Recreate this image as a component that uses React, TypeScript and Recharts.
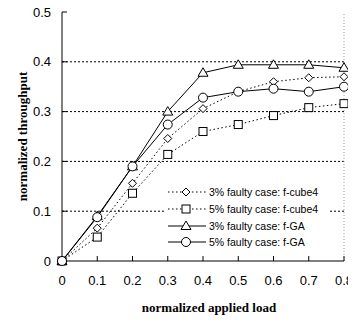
import React from 'react';
import { LineChart, Line, XAxis, YAxis, ReferenceLine } from 'recharts';

const loads = [0, 0.1, 0.2, 0.3, 0.4, 0.5, 0.6, 0.7, 0.8];
const cube4Faulty3 = [0, 0.066, 0.156, 0.246, 0.306, 0.34, 0.36, 0.368, 0.37];
const cube4Faulty5 = [0, 0.048, 0.136, 0.214, 0.26, 0.274, 0.292, 0.308, 0.316];
const gaFaulty3 = [0, 0.09, 0.19, 0.3, 0.378, 0.394, 0.394, 0.394, 0.388];
const gaFaulty5 = [0, 0.088, 0.19, 0.274, 0.328, 0.34, 0.346, 0.34, 0.35];
const yTicks = [0, 0.1, 0.2, 0.3, 0.4, 0.5];
const gridValues = [0.1, 0.2, 0.3, 0.4];

const data = loads.map((x, i) => ({
  x,
  c3: cube4Faulty3[i],
  c5: cube4Faulty5[i],
  g3: gaFaulty3[i],
  g5: gaFaulty5[i],
}));

type Shape = 'diamond' | 'square' | 'triangle' | 'circle';

const Marker = ({ cx, cy, shape }: { cx: number; cy: number; shape: Shape }) => {
  const p = { fill: '#fff', stroke: '#000', strokeWidth: 1 };
  if (shape === 'diamond')
    return <polygon points={`${cx},${cy - 4} ${cx + 4},${cy} ${cx},${cy + 4} ${cx - 4},${cy}`} {...p} />;
  if (shape === 'square') return <rect x={cx - 4} y={cy - 4} width={8} height={8} {...p} />;
  if (shape === 'triangle')
    return <polygon points={`${cx},${cy - 5} ${cx + 5},${cy + 3.5} ${cx - 5},${cy + 3.5}`} {...p} />;
  return <circle cx={cx} cy={cy} r={4.5} {...p} />;
};

const dot = (shape: Shape) => (props: any) =>
  <Marker key={`${shape}-${props.index}`} cx={props.cx} cy={props.cy} shape={shape} />;

const series = [
  { key: 'c3', name: '3% faulty case: f-cube4', shape: 'diamond' as Shape, dash: '1.5 2.5' },
  { key: 'c5', name: '5% faulty case: f-cube4', shape: 'square' as Shape, dash: '1.5 2.5' },
  { key: 'g3', name: '3% faulty case: f-GA', shape: 'triangle' as Shape, dash: undefined },
  { key: 'g5', name: '5% faulty case: f-GA', shape: 'circle' as Shape, dash: undefined },
];

// legend sits inside the plot, over the 0.1 grid line
const LegendBox = () => (
  <div
    style={{
      position: 'absolute',
      left: 166,
      top: 184,
      width: 164,
      background: '#fff',
      fontFamily: 'Liberation Sans, Arial, sans-serif',
      fontSize: 10.5,
      whiteSpace: 'nowrap',
      lineHeight: '12px',
    }}
  >
    {series.map((s) => (
      <div key={s.key} style={{ display: 'flex', alignItems: 'center', height: 16.7 }}>
        <svg width={42} height={12} style={{ display: 'block' }}>
          <line x1={2} y1={6} x2={40} y2={6} stroke="#000" strokeDasharray={s.dash} />
          <Marker cx={20} cy={6} shape={s.shape} />
        </svg>
        <span style={{ marginLeft: 1, color: '#000' }}>{s.name}</span>
      </div>
    ))}
  </div>
);

export default function App() {
  return (
    <div style={{ margin: -8, width: 356, height: 324, background: '#fff', position: 'relative' }}>
      <LineChart width={356} height={324} data={data} margin={{ top: 12, right: 12, left: 20, bottom: 0 }}>
        {gridValues.map((v) => (
          <ReferenceLine key={v} y={v} stroke="#000" strokeDasharray="2 2" />
        ))}
        <ReferenceLine x={0.8} stroke="#999" strokeDasharray="1 2" />
        <XAxis
          dataKey="x"
          type="number"
          domain={[0, 0.8]}
          ticks={loads}
          height={63}
          axisLine={{ stroke: '#000' }}
          tickLine={{ stroke: '#000', transform: 'translate(0,-5)' }}
          tickSize={5}
          tick={{ fill: '#000', fontSize: 13, fontFamily: 'Liberation Sans, Arial, sans-serif' }}
          tickMargin={10}
          label={{
            value: 'normalized applied load',
            position: 'insideBottom',
            offset: 12,
            dx: 6,
            fill: '#000',
            fontSize: 13,
            fontWeight: 'bold',
            fontFamily: 'Liberation Serif, Times New Roman, serif',
          }}
        />
        <YAxis
          type="number"
          domain={[0, 0.5]}
          ticks={yTicks}
          width={42}
          axisLine={{ stroke: '#000' }}
          tickLine={{ stroke: '#000', transform: 'translate(5,0)' }}
          tickSize={5}
          tickMargin={6}
          tick={{ fill: '#000', fontSize: 13, fontFamily: 'Liberation Sans, Arial, sans-serif' }}
          label={{
            value: 'normalized throughput',
            angle: -90,
            position: 'insideLeft',
            offset: 2,
            style: { textAnchor: 'middle' },
            fill: '#000',
            fontSize: 13,
            fontWeight: 'bold',
            fontFamily: 'Liberation Serif, Times New Roman, serif',
          }}
        />
        {series.map((s) => (
          <Line
            key={s.key}
            dataKey={s.key}
            name={s.name}
            stroke="#000"
            strokeWidth={1}
            strokeDasharray={s.dash}
            dot={dot(s.shape)}
            activeDot={false}
            isAnimationActive={false}
          />
        ))}
      </LineChart>
      <LegendBox />
    </div>
  );
}
